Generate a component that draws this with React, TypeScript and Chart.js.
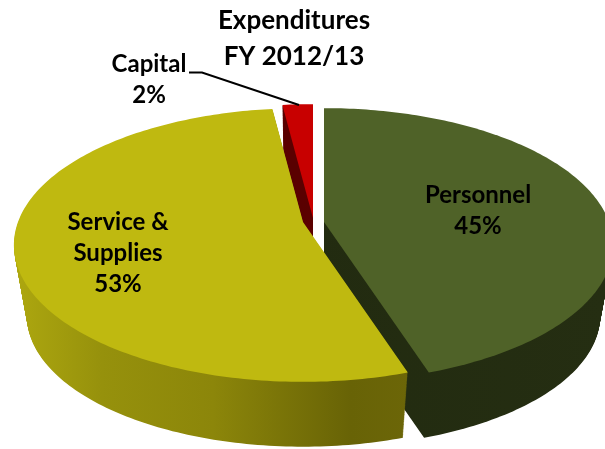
import React, { useEffect, useRef } from "react";
import { Chart, registerables } from "chart.js";

Chart.register(...registerables);

const categories = ["Personnel", "Service & Supplies", "Capital"];
const shares = [45, 53, 2];
const titleLines = ["Expenditures", "FY 2012/13"];

const topColors = ["#4F6228", "#BFB910", "#C80000"];
const FONT = "Lato";

// perspective model of the tilted disc
const R = 285, S = 133, K = 0.168, DEPTH = 72, SHRINK = 0.955;
const apexes = [{ x: 324, y: 222 }, { x: 303, y: 222 }, { x: 313, y: 218 }];
const labelPlaces = [
  { x: 478, y: 195, lines: ["Personnel"] },
  { x: 118, y: 222, lines: ["Service &", "Supplies"] },
  { x: 149, y: 64, lines: ["Capital"] },
];

function slicePath(ctx: CanvasRenderingContext2D, a0: number, a1: number, ax: number, ay: number, s: number) {
  ctx.beginPath();
  ctx.moveTo(ax, ay);
  const n = Math.max(4, Math.ceil(((a1 - a0) * 180) / Math.PI));
  for (let i = 0; i <= n; i++) {
    const a = a0 + ((a1 - a0) * i) / n;
    const x = Math.cos(a), y = Math.sin(a), w = 1 - K * y;
    ctx.lineTo(ax + (s * R * x) / w, ay + (s * S * y) / w);
  }
  ctx.closePath();
}

function sideStyle(ctx: CanvasRenderingContext2D, i: number) {
  const g = ctx.createLinearGradient(i === 1 ? 15 : 300, 0, i === 1 ? 410 : 610, 0);
  if (i === 0) {
    g.addColorStop(0, "#222B10");
    g.addColorStop(1, "#252E12");
  } else if (i === 1) {
    g.addColorStop(0, "#ADA70F");
    g.addColorStop(0.22, "#96910C");
    g.addColorStop(0.5, "#8C860A");
    g.addColorStop(0.85, "#686306");
    g.addColorStop(1, "#6C6608");
  } else {
    g.addColorStop(0, "#5A0000");
    g.addColorStop(1, "#6E0000");
  }
  return g;
}

const pie3d = {
  id: "pie3d",
  beforeDatasetDraw(chart: any) {
    const ctx: CanvasRenderingContext2D = chart.ctx;
    const arcs = chart.getDatasetMeta(0).data;
    ctx.save();
    for (const i of [2, 0, 1]) {
      const { startAngle, endAngle } = arcs[i];
      const { x, y } = apexes[i];
      ctx.fillStyle = sideStyle(ctx, i);
      for (let d = DEPTH; d > 0; d--) {
        const s = 1 - ((1 - SHRINK) * d) / DEPTH;
        slicePath(ctx, startAngle, endAngle, x, y + d, s);
        ctx.fill();
      }
      ctx.fillStyle = topColors[i];
      slicePath(ctx, startAngle, endAngle, x, y, 1);
      ctx.fill();
    }
    ctx.restore();
    return false;
  },
  afterDraw(chart: any) {
    const ctx: CanvasRenderingContext2D = chart.ctx;
    ctx.save();
    ctx.fillStyle = "#000";
    ctx.font = `bold 24px ${FONT}`;
    ctx.textAlign = "center";
    ctx.textBaseline = "middle";
    chart.data.labels.forEach((_: string, i: number) => {
      const p = labelPlaces[i];
      const lines = [...p.lines, `${chart.data.datasets[0].data[i]}%`];
      lines.forEach((t, j) => ctx.fillText(t, p.x, p.y + j * 31));
    });
    ctx.strokeStyle = "#000";
    ctx.lineWidth = 2;
    ctx.beginPath();
    ctx.moveTo(189, 72.5);
    ctx.lineTo(202, 72.5);
    ctx.lineTo(299, 105);
    ctx.stroke();
    ctx.restore();
  },
};

export default function App() {
  const ref = useRef<HTMLCanvasElement>(null);
  useEffect(() => {
    const chart = new Chart(ref.current!, {
      type: "pie",
      data: {
        labels: categories,
        datasets: [{ data: shares, backgroundColor: topColors, borderWidth: 0 }],
      },
      options: {
        responsive: false,
        animation: false,
        layout: { padding: { right: 17 } },
        plugins: {
          legend: { display: false },
          tooltip: { enabled: false },
          title: {
            display: true,
            text: titleLines,
            color: "#000",
            font: { family: FONT, size: 26, weight: "bold", lineHeight: 1.38 },
            padding: { top: 3, bottom: 0 },
          },
        },
      },
      plugins: [pie3d],
    } as any);
    return () => chart.destroy();
  }, []);
  return (
    <div style={{ position: "fixed", left: 0, top: 0, width: 605, height: 449, background: "#fff" }}>
      <canvas ref={ref} width={605} height={449} style={{ display: "block" }} />
    </div>
  );
}
